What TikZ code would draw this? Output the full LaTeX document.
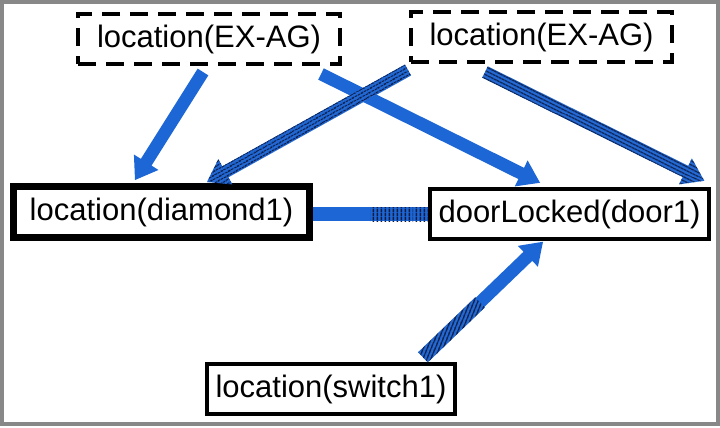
\documentclass[tikz,border=0pt]{standalone}
\usepackage{fontspec}
\setmainfont{Liberation Sans}
\usetikzlibrary{calc,patterns.meta}

\definecolor{arrowblue}{RGB}{28,102,214}
\definecolor{stripenavy}{RGB}{16,26,62}
\definecolor{framegray}{RGB}{136,136,136}

\tikzset{
  box/.style={draw, line width=4.5bp, inner sep=0pt, minimum height=50bp,
    font=\fontsize{31bp}{36bp}\selectfont},
  agentbox/.style={box, line width=4bp, dash pattern=on 18bp off 10bp},
  mainbox/.style={box, line width=7bp, minimum height=51bp},
  alongstripes/.style={postaction={pattern={Lines[angle=\arrowang,distance=3.6bp,line width=1.7bp]},
    pattern color=stripenavy}},
  crossstripes/.style={postaction={pattern={Lines[angle=#1,distance=3.6bp,line width=1.7bp]},
    pattern color=stripenavy}},
}

% wide arrow from tail #2 to tip #3
\newcommand\fatarrow[3][]{%
  \coordinate (hb) at ($(#3)!21bp!(#2)$);%
  \pgfmathanglebetweenpoints{\pgfpointanchor{#2}{center}}{\pgfpointanchor{#3}{center}}%
  \let\arrowang\pgfmathresult
  \fill[arrowblue,#1] ($(#2)!6.3bp!90:(#3)$) -- ($(hb)!6.3bp!90:(#3)$) -- ($(hb)!14.5bp!90:(#3)$)
    -- (#3) -- ($(hb)!14.5bp!-90:(#3)$) -- ($(hb)!6.3bp!-90:(#3)$) -- ($(#2)!6.3bp!-90:(#3)$) -- cycle;%
}
% wide bar without head
\newcommand\fatbar[3][]{%
  \fill[arrowblue,#1] ($(#2)!7bp!90:(#3)$) -- ($(#3)!7bp!-90:(#2)$)
    -- ($(#3)!7bp!90:(#2)$) -- ($(#2)!7bp!-90:(#3)$) -- cycle;%
}

\begin{document}
\begin{tikzpicture}[x=1bp, y=-1bp]
  \useasboundingbox (0,0) rectangle (720,427);
  \draw[framegray, line width=4bp] (2,2) rectangle (718,424);

  % facts
  \node[agentbox, minimum width=262bp] (exag1) at (209,39) {location(EX-AG)};
  \node[agentbox, minimum width=261bp] (exag2) at (541.5,37) {location(EX-AG)};
  \node[mainbox, minimum width=296bp] (diamond) at (161.5,212) {location(diamond1)};
  \node[box, minimum width=279bp] (door) at (569.5,214) {doorLocked(door1)};
  \node[box, minimum width=248bp] (switch) at (331,389) {location(switch1)};

  % arrow ends
  \coordinate (t1) at ($(exag1.south)+(-6,6)$);
  \coordinate (h1) at ($(diamond.north)+(-26.5,-3)$);
  \coordinate (t2) at ($(exag1.south east)+(-21,8)$);
  \coordinate (h2) at ($(door.north)+(-29.5,-4)$);
  \coordinate (t3) at ($(exag2.south west)+(-1,6)$);
  \coordinate (h3) at ($(diamond.north)+(45.5,-1)$);
  \coordinate (t4) at ($(exag2.south)+(-56.5,8)$);
  \coordinate (h4) at ($(door.north east)+(-7,-6)$);
  \coordinate (b5a) at (diamond.east |- door.west);
  \coordinate (b5m) at ($(b5a)!0.5!(door.west)$);
  \coordinate (t6) at ($(switch.north east)+(-34.25,-4.5)$);
  \coordinate (h6) at ($(door.south)+(-26.5,0.5)$);
  \coordinate (m6) at ($(t6)!0.475!(h6)$);

  \fatarrow{t1}{h1}
  \fatarrow{t2}{h2}
  \fatarrow[alongstripes]{t3}{h3}
  \fatarrow[alongstripes]{t4}{h4}

  \fatbar{b5a}{b5m}
  \fatbar[crossstripes=90]{b5m}{door.west}

  \fatarrow{t6}{h6}
  \fatbar[crossstripes=68]{t6}{m6}
\end{tikzpicture}
\end{document}
